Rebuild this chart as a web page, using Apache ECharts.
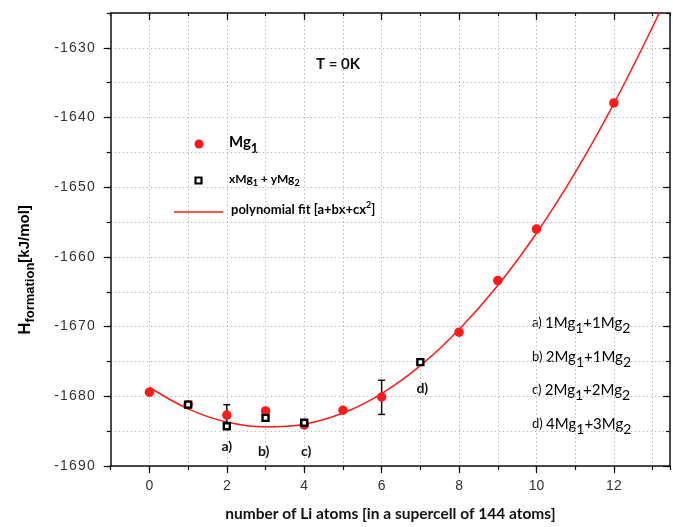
<!DOCTYPE html>
<html>
<head>
<meta charset="utf-8">
<script src="https://cdn.jsdelivr.net/npm/echarts@6/dist/echarts.min.js"></script>
<style>html,body{margin:0;padding:0;background:#fff}#c{width:673px;height:527px}</style>
</head>
<body>
<div id="c"></div>
<script>
// Mg1 configurations (red circles)
const mgX = [0, 1, 2, 3, 4, 5, 6, 8, 9, 10, 12];
const mgY = [-1679.4, -1681.2, -1682.7, -1682.1, -1684.1, -1682.0, -1680.1, -1670.8, -1663.4, -1656.0, -1637.9];
// xMg1 + yMg2 configurations (black squares)
const sqX = [1, 2, 3, 4, 7];
const sqY = [-1681.2, -1684.3, -1683.1, -1683.8, -1675.1];
// error bars
const errX = [2, 6];
const errLow = [-1684.2, -1682.6];
const errHigh = [-1681.2, -1677.7];
// polynomial fit curve
const fitX = [0, 1, 2, 3, 4, 5, 6, 7, 8, 9, 10, 11, 12, 13, 13.4];
const fitY = [-1678.7, -1681.8, -1683.7, -1684.4, -1684.0, -1682.4, -1679.6, -1675.6, -1670.4, -1664.1, -1656.6, -1647.9, -1638.0, -1627.0, -1622.1];
// ticks
const xMajor = [0, 2, 4, 6, 8, 10, 12];
const yMajor = [-1690, -1680, -1670, -1660, -1650, -1640, -1630];
// annotations
const pointLabels = [{t: 'a)', x: 2, y: -1687.2}, {t: 'b)', x: 2.95, y: -1687.9}, {t: 'c)', x: 4.05, y: -1687.9}, {t: 'd)', x: 7.05, y: -1678.9}];
const listLabels = ['a) 1Mg1+1Mg2', 'b) 2Mg1+1Mg2', 'c) 2Mg1+2Mg2', 'd) 4Mg1+3Mg2'];

const XMIN = -1, XMAX = 13.45, YMIN = -1690, YMAX = -1625;
const FONT = 'Lato';
const chart = echarts.init(document.getElementById('c'));

function xAx(opts) {
  return Object.assign({
    type: 'value', min: XMIN, max: XMAX, interval: 1,
    axisLine: {show: false, onZero: false}, axisTick: {show: false},
    axisLabel: {show: false}, splitLine: {show: false}
  }, opts);
}
function yAx(opts) {
  return Object.assign({
    type: 'value', min: YMIN, max: YMAX, interval: 5,
    axisLine: {show: false, onZero: false}, axisTick: {show: false},
    axisLabel: {show: false}, splitLine: {show: false}
  }, opts);
}
const lineStyle = {color: '#111', width: 1.5};
const tickStyle = {color: '#111', width: 1.2};

const subRich = {
  n: {fontFamily: FONT, fontSize: 15, color: '#111'},
  s: {fontFamily: FONT, fontSize: 14, color: '#111', padding: [10, 0, 0, 0]},
  p: {fontFamily: FONT, fontSize: 13, color: '#111'}
};
function toRich(str) {
  const m = str.match(/^(\w\)) (\d)Mg(\d)\+(\d)Mg(\d)$/);
  return '{p|' + m[1] + ' }{n|' + m[2] + 'Mg}{s|' + m[3] + '}{n|+' + m[4] + 'Mg}{s|' + m[5] + '}';
}

const graphics = [];
// legend
graphics.push({type: 'circle', shape: {cx: 199, cy: 144, r: 4.5}, style: {fill: '#ff1a1a'}});
graphics.push({type: 'text', left: 229, top: 135, style: {
  text: '{n|Mg}{s|1}', rich: {
    n: {fontFamily: FONT, fontSize: 15, fontWeight: 'bold', color: '#111'},
    s: {fontFamily: FONT, fontSize: 13, fontWeight: 'bold', color: '#111', padding: [12, 0, 0, 0]}
  }}});
graphics.push({type: 'rect', shape: {x: 195.5, y: 177.5, width: 6, height: 6}, style: {fill: '#fff', stroke: '#000', lineWidth: 2.2}});
graphics.push({type: 'text', left: 229, top: 173, style: {
  text: '{n|xMg}{s|1}{n| + yMg}{s|2}', rich: {
    n: {fontFamily: FONT, fontSize: 12, fontWeight: 'bold', color: '#111'},
    s: {fontFamily: FONT, fontSize: 9, fontWeight: 'bold', color: '#111', padding: [9, 0, 0, 0]}
  }}});
graphics.push({type: 'line', shape: {x1: 174, y1: 212, x2: 223, y2: 212}, style: {stroke: '#ff1a1a', lineWidth: 1.5}});
graphics.push({type: 'text', left: 231, top: 201, style: {
  text: '{n|polynomial fit [a+bx+cx}{u|2}{n|]}', rich: {
    n: {fontFamily: FONT, fontSize: 13, fontWeight: 'bold', color: '#111'},
    u: {fontFamily: FONT, fontSize: 9, fontWeight: 'bold', color: '#111', padding: [0, 0, 8, 0]}
  }}});
// T = 0K
graphics.push({type: 'text', x: 338, y: 64, style: {text: 'T = 0K', fontFamily: FONT, fontSize: 15, fontWeight: 'bold', fill: '#111', align: 'center', verticalAlign: 'middle'}});
// right list
const listY = [323, 357, 390, 424];
listLabels.forEach((l, i) => {
  graphics.push({type: 'text', x: 532, y: listY[i], style: {text: toRich(l), rich: subRich, verticalAlign: 'middle'}});
});
// y axis title
graphics.push({type: 'text', x: 25, y: 270, rotation: Math.PI / 2, style: {
  text: '{h|H}{s|formation}{u|[kJ/mol]}', align: 'center', verticalAlign: 'middle', rich: {
    h: {fontFamily: 'Liberation Sans', fontSize: 17, fontWeight: 'bold', color: '#111'},
    s: {fontFamily: 'Liberation Sans', fontSize: 13, fontWeight: 'bold', color: '#111', padding: [11, 0, 0, 0]},
    u: {fontFamily: 'Liberation Sans', fontSize: 15, fontWeight: 'bold', color: '#111'}
  }}});

const option = {
  animation: false,
  backgroundColor: '#fff',
  grid: {left: 110.7, right: 1, top: 13, bottom: 58, containLabel: false},
  xAxis: [
    xAx({position: 'bottom',
      axisLine: {show: true, onZero: false, lineStyle: lineStyle},
      axisTick: {show: true, length: 4, lineStyle: tickStyle},
      axisLabel: {show: true, margin: 13, fontFamily: 'Liberation Sans', fontSize: 14, color: '#333',
        formatter: v => (xMajor.indexOf(v) >= 0 ? String(v) : '')},
      splitLine: {show: true, lineStyle: {type: [1.5, 2.5], color: '#bdbdbd', width: 1}},
      name: 'number of Li atoms [in a supercell of 144 atoms]', nameLocation: 'middle', nameGap: 40,
      nameTextStyle: {fontFamily: FONT, fontSize: 15.5, fontWeight: 'bold', color: '#111'}
    }),
    xAx({position: 'bottom', axisTick: {show: true, length: 7, customValues: xMajor, lineStyle: tickStyle}}),
    xAx({position: 'top', axisLine: {show: true, onZero: false, lineStyle: lineStyle},
      axisTick: {show: true, inside: true, length: 3, lineStyle: tickStyle}}),
    xAx({position: 'top', axisTick: {show: true, inside: true, length: 7, customValues: xMajor, lineStyle: tickStyle}})
  ],
  yAxis: [
    yAx({position: 'left',
      axisLine: {show: true, onZero: false, lineStyle: lineStyle},
      axisTick: {show: true, length: 4, lineStyle: tickStyle},
      axisLabel: {show: true, margin: 16, fontFamily: 'Liberation Sans', fontSize: 14, color: '#333',
        formatter: v => (yMajor.indexOf(v) >= 0 ? String(v).split('').join('\u200a') : '')},
      splitLine: {show: true, lineStyle: {type: [1.5, 2.5], color: '#bdbdbd', width: 1}}
    }),
    yAx({position: 'left', axisTick: {show: true, length: 7, customValues: yMajor, lineStyle: tickStyle}}),
    yAx({position: 'right', axisLine: {show: true, onZero: false, lineStyle: lineStyle},
      axisTick: {show: true, inside: true, length: 4, lineStyle: tickStyle}}),
    yAx({position: 'right', axisTick: {show: true, inside: true, length: 7, customValues: yMajor, lineStyle: tickStyle}})
  ],
  series: [
    {
      name: 'polynomial fit', type: 'line', xAxisIndex: 0, yAxisIndex: 0,
      data: fitX.map((x, i) => [x, fitY[i]]), smooth: 0.4, showSymbol: false, clip: true,
      lineStyle: {color: '#ff1a1a', width: 1.5}, z: 2
    },
    {
      name: 'errors', type: 'custom', xAxisIndex: 0, yAxisIndex: 0, z: 3,
      data: errX.map((x, i) => [x, errLow[i], errHigh[i]]),
      renderItem: (params, api) => {
        const lo = api.coord([api.value(0), api.value(1)]);
        const hi = api.coord([api.value(0), api.value(2)]);
        const w = 3.5;
        const st = {stroke: '#111', lineWidth: 1.5};
        return {type: 'group', children: [
          {type: 'line', shape: {x1: lo[0], y1: lo[1], x2: hi[0], y2: hi[1]}, style: st},
          {type: 'line', shape: {x1: lo[0] - w, y1: lo[1], x2: lo[0] + w, y2: lo[1]}, style: st},
          {type: 'line', shape: {x1: hi[0] - w, y1: hi[1], x2: hi[0] + w, y2: hi[1]}, style: st}
        ]};
      }
    },
    {
      name: 'Mg1', type: 'scatter', xAxisIndex: 0, yAxisIndex: 0, z: 4,
      data: mgX.map((x, i) => [x, mgY[i]]), symbol: 'circle', symbolSize: 9.5,
      itemStyle: {color: '#ff1a1a', opacity: 1}
    },
    {
      name: 'xMg1 + yMg2', type: 'scatter', xAxisIndex: 0, yAxisIndex: 0, z: 5,
      data: sqX.map((x, i) => [x, sqY[i]]), symbol: 'rect', symbolSize: 6,
      itemStyle: {color: '#fff', borderColor: '#000', borderWidth: 2.4, opacity: 1}
    },
    {
      name: 'labels', type: 'scatter', xAxisIndex: 0, yAxisIndex: 0, z: 6,
      data: pointLabels.map(p => ({value: [p.x, p.y], label: {formatter: p.t}})),
      symbolSize: 1, silent: true, itemStyle: {opacity: 0},
      label: {show: true, position: 'inside', opacity: 1, fontFamily: FONT, fontSize: 14, fontWeight: 'bold', color: '#111'}
    }
  ],
  graphic: graphics
};
chart.setOption(option);
</script>
</body>
</html>
